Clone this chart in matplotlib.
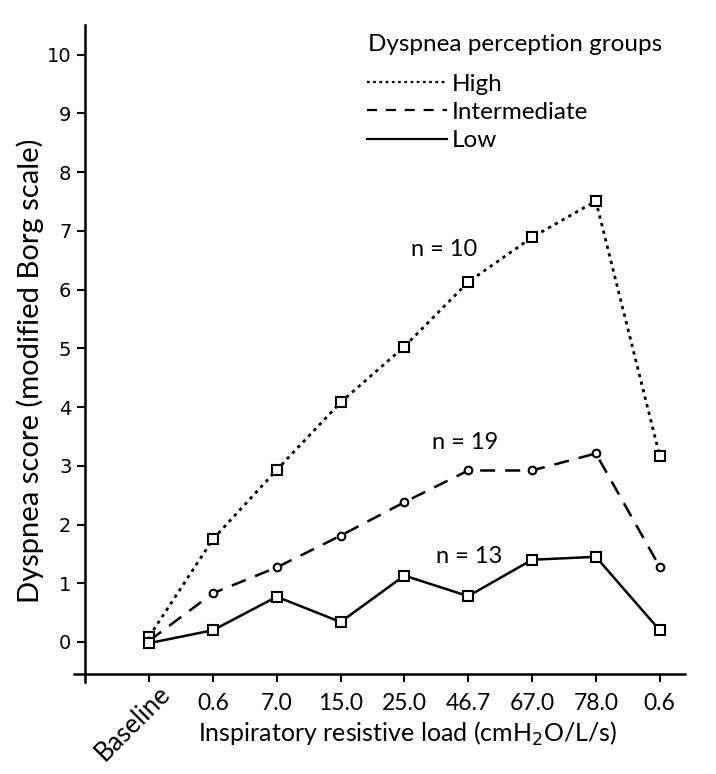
import matplotlib
matplotlib.use("Agg")
import matplotlib.pyplot as plt
from matplotlib.lines import Line2D
from matplotlib.transforms import ScaledTranslation

categories = ["Baseline", "0.6", "7.0", "15.0", "25.0", "46.7", "67.0", "78.0", "0.6"]
high = [0.09, 1.75, 2.93, 4.08, 5.03, 6.13, 6.89, 7.51, 3.17]
intermediate = [0.02, 0.83, 1.27, 1.81, 2.38, 2.92, 2.92, 3.21, 1.28]
low = [-0.02, 0.20, 0.77, 0.34, 1.13, 0.78, 1.40, 1.45, 0.20]
yticks = list(range(0, 11))
group_names = ["High", "Intermediate", "Low"]
legend_title = "Dyspnea perception groups"
n_labels = ["n = 10", "n = 19", "n = 13"]
n_pos = [(4.62, 6.68), (4.95, 3.39), (5.02, 1.45)]

LABEL_FONT = ["Lato", "DejaVu Sans"]
TICK_FONT = ["DejaVu Sans"]

fig = plt.figure(figsize=(7.16, 7.74), dpi=100)
ax = fig.add_axes([0.104, 0.119, 0.853, 0.849])

x = list(range(len(categories)))
ax.plot(x, high, color="black", linestyle=(0, (1.2, 1.6)), linewidth=2.0,
        marker="s", markersize=6.5, markerfacecolor="white", markeredgecolor="black",
        markeredgewidth=1.5)
ax.plot(x, intermediate, color="black", linestyle=(0, (6, 4)), linewidth=1.8,
        marker="o", markersize=5.5, markerfacecolor="white", markeredgecolor="black",
        markeredgewidth=1.5)
ax.plot(x, low, color="black", linestyle="-", linewidth=1.8,
        marker="s", markersize=6.5, markerfacecolor="white", markeredgecolor="black",
        markeredgewidth=1.5)

ax.set_xlim(-1.17, 8.4)
ax.set_ylim(-0.68, 10.51)
ax.spines["top"].set_visible(False)
ax.spines["right"].set_visible(False)
ax.spines["left"].set_position(("data", -1.0))
ax.spines["bottom"].set_position(("data", -0.545))
for s in ("left", "bottom"):
    ax.spines[s].set_linewidth(1.8)

ax.set_xticks(x)
ax.set_xticklabels(categories, family=LABEL_FONT, fontsize=16.5)
ax.set_yticks(yticks)
ax.set_yticklabels([str(v) for v in yticks], family=TICK_FONT, fontsize=14)
ax.tick_params(axis="both", direction="out", length=6, width=1.5, colors="black")
ax.tick_params(axis="x", pad=8)
ax.tick_params(axis="y", pad=4)

lab = ax.get_xticklabels()
lab[0].set_rotation(45)
lab[0].set_ha("right")
lab[0].set_va("top")
lab[0].set_rotation_mode("anchor")
lab[0].set_fontsize(18.5)
lab[0].set_transform(lab[0].get_transform() +
                     ScaledTranslation(6 / 72, 9 / 72, fig.dpi_scale_trans))

ax.set_xlabel("Inspiratory resistive load (cmH$_2$O/L/s)", family=LABEL_FONT,
              fontsize=18)
ax.xaxis.set_label_coords(0.546, -0.058)
ax.set_ylabel("Dyspnea score (modified Borg scale)", family=LABEL_FONT,
              fontsize=21)
ax.yaxis.set_label_coords(-0.05, 0.474)

for t, (px, py) in zip(n_labels, n_pos):
    ax.text(px, py, t, family=LABEL_FONT, fontsize=17, ha="center", va="center")

fig.text(0.514, 0.942, legend_title, family=LABEL_FONT, fontsize=17.5,
         ha="left", va="center")
handles = [
    Line2D([], [], color="black", linestyle=(0, (1.2, 1.6)), linewidth=1.6),
    Line2D([], [], color="black", linestyle=(0, (4.5, 4)), linewidth=1.6),
    Line2D([], [], color="black", linestyle="-", linewidth=1.6),
]
leg = ax.legend(handles, group_names,
                loc="upper left", bbox_to_anchor=(0.512, 0.905), bbox_transform=fig.transFigure,
                frameon=False, handlelength=3.3, handletextpad=0.2, labelspacing=0.3,
                borderaxespad=0.0, borderpad=0.0,
                prop={"family": LABEL_FONT, "size": 17.5})

fig.savefig("out.png", dpi=100)
